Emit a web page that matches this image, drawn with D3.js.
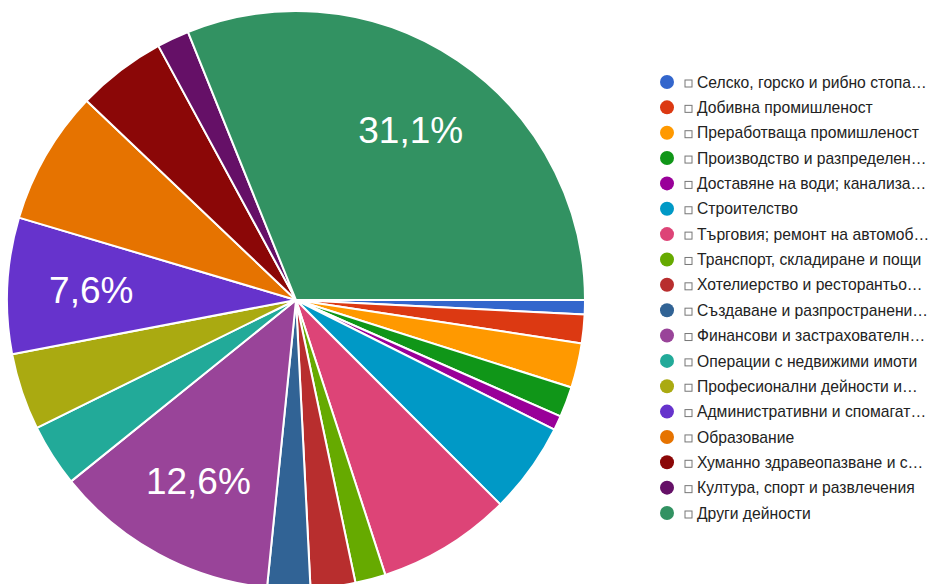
<!DOCTYPE html>
<html>
<head>
<meta charset="utf-8">
<script src="https://cdn.jsdelivr.net/npm/d3@7"></script>
<style>
  html, body { margin: 0; padding: 0; background: #fff; }
  svg { display: block; }
</style>
</head>
<body>
<svg id="chart" width="941" height="584"></svg>
<script>
const categories = [
  "Селско, горско и рибно стопа…",
  "Добивна промишленост",
  "Преработваща промишленост",
  "Производство и разпределен…",
  "Доставяне на води; канализа…",
  "Строителство",
  "Търговия; ремонт на автомоб…",
  "Транспорт, складиране и пощи",
  "Хотелиерство и ресторантьо…",
  "Създаване и разпространени…",
  "Финансови и застрахователн…",
  "Операции с недвижими имоти",
  "Професионални дейности и…",
  "Административни и спомагат…",
  "Образование",
  "Хуманно здравеопазване и с…",
  "Култура, спорт и развлечения",
  "Други дейности"
];
const values = [0.8, 1.6, 2.5, 1.7, 0.8, 5.1, 7.5, 1.7, 2.5, 2.4, 12.6, 3.5, 4.3, 7.6, 7.5, 5.0, 1.8, 31.1];
const colors = ["#3366cc", "#dc3912", "#ff9900", "#109618", "#990099", "#0099c6", "#dd4477", "#66aa00", "#b82e2e", "#316395", "#994499", "#22aa99", "#aaaa11", "#6633cc", "#e67300", "#8b0707", "#651067", "#329262"];
const labelThreshold = 7.6;

const svg = d3.select("#chart");
const cx = 296, cy = 300, r = 289;

const data = categories.map((c, i) => ({ name: c, value: values[i], color: colors[i] }));

const pie = d3.pie().value(d => d.value).sort(null)
  .startAngle(Math.PI / 2).endAngle(Math.PI / 2 + 2 * Math.PI);
const arcs = pie(data);
const arc = d3.arc().innerRadius(0).outerRadius(r);
const labelArc = d3.arc().innerRadius(205).outerRadius(205);

const g = svg.append("g").attr("transform", `translate(${cx},${cy})`);
g.selectAll("path").data(arcs).enter().append("path")
  .attr("d", arc)
  .attr("fill", d => d.data.color)
  .attr("stroke", "#fff")
  .attr("stroke-width", 2)
  .attr("stroke-linejoin", "round");

g.selectAll("text.lbl").data(arcs.filter(d => d.data.value >= labelThreshold)).enter()
  .append("text").attr("class", "lbl")
  .attr("transform", d => `translate(${labelArc.centroid(d)})`)
  .attr("text-anchor", "middle")
  .attr("dy", "0.36em")
  .attr("font-family", "Arial, 'Liberation Sans', sans-serif")
  .attr("font-size", 37)
  .attr("fill", "#fff")
  .text(d => d.data.value.toFixed(1).replace(".", ",") + "%");

// Legend
const legendY = d3.scaleLinear().domain([0, categories.length - 1]).range([82, 513]);
const lg = svg.append("g");
const items = lg.selectAll("g.item").data(data).enter().append("g")
  .attr("class", "item")
  .attr("transform", (d, i) => `translate(667,${legendY(i)})`);
items.append("circle").attr("r", 7).attr("fill", d => d.color);
items.append("rect")
  .attr("x", 18).attr("y", -2).attr("width", 7).attr("height", 7)
  .attr("fill", "#fff").attr("stroke", "#777").attr("stroke-width", 1);
items.append("text")
  .attr("x", 30).attr("y", 0).attr("dy", "0.36em")
  .attr("font-family", "Arial, 'Liberation Sans', sans-serif")
  .attr("font-size", 15.7)
  .attr("fill", "#222")
  .text(d => d.name);
</script>
</body>
</html>
